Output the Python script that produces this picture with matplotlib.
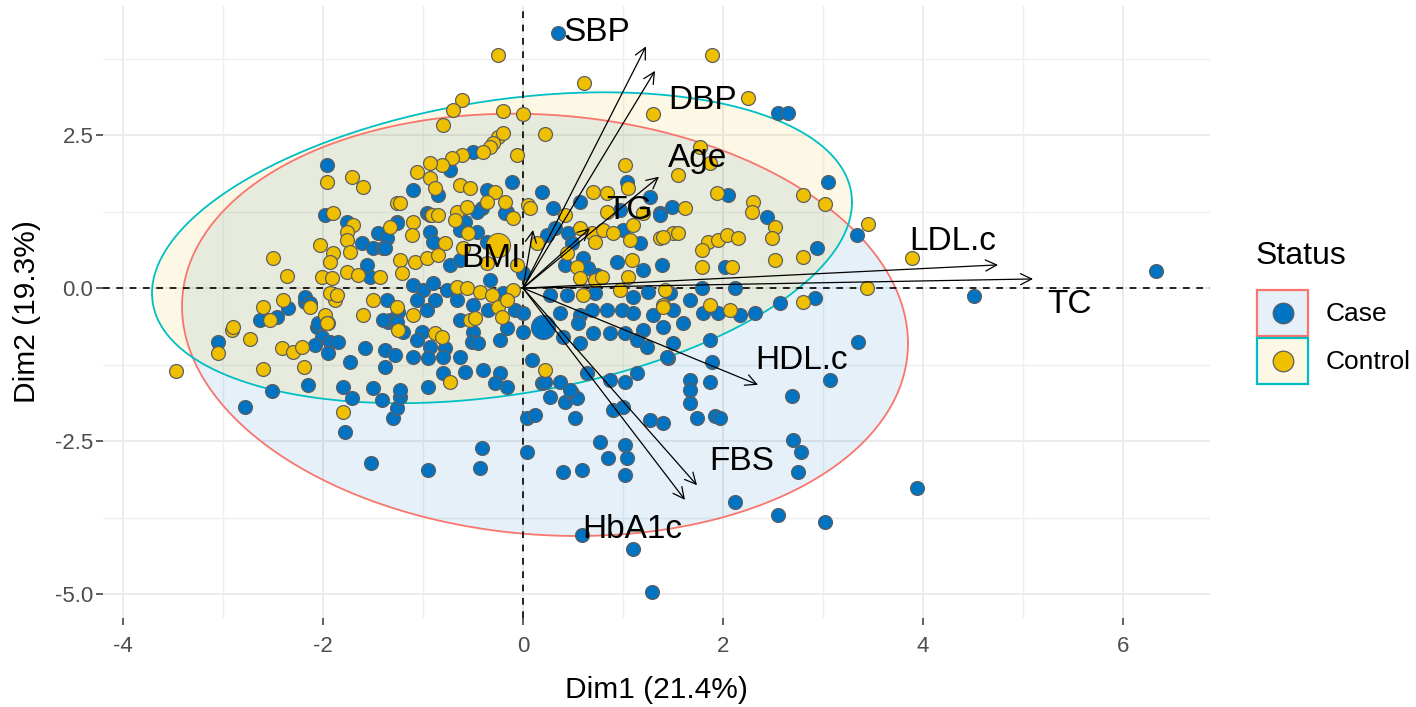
import numpy as np
import matplotlib
matplotlib.use("Agg")
import matplotlib.pyplot as plt
from matplotlib.patches import Rectangle

plt.rcParams['font.family'] = ['Liberation Sans', 'DejaVu Sans']

# ---------------- data ----------------
case_points = [
    (0.35, 4.17), (2.55, 2.86), (2.65, 2.86), (3.05, 1.73), (3.34, 0.87), (4.51, -0.13), (6.33, 0.28),
    (3.35, -0.88), (3.07, -1.50), (2.69, -1.76), (2.70, -2.48), (2.78, -2.68), (2.75, -3.01), (3.94, -3.27),
    (2.12, -3.50), (2.55, -3.71), (3.02, -3.82),
    (1.67, -1.50), (1.67, -1.67), (1.67, -1.88), (1.74, -2.12), (1.92, -2.09), (1.97, -2.12), (1.87, -1.54),
    (1.89, -1.21), (1.87, -0.85), (1.40, -2.21), (1.50, -0.90), (1.45, -1.14), (1.60, -0.57), (1.67, -0.20),
    (1.80, -0.41), (1.95, -0.41), (2.17, -0.44), (2.32, -0.41), (2.57, -0.25), (2.92, -0.16),
    (-0.41, -2.61), (-0.43, -2.94), (-0.95, -2.97), (-1.52, -2.86), (0.04, -2.12), (0.12, -2.08), (0.04, -2.68),
    (0.40, -3.01), (0.59, -2.97), (0.52, -2.12), (0.77, -2.52), (0.85, -2.78), (1.02, -2.57), (1.04, -2.78),
    (1.02, -3.06), (1.27, -2.16), (0.27, -1.78), (0.42, -1.86), (0.49, -1.72), (0.54, -1.80), (0.90, -1.99),
    (1.00, -1.94), (-1.30, -2.12), (-1.26, -1.96), (-1.23, -1.78), (-0.95, -1.62), (-0.16, -1.62), (0.19, -1.55),
    (1.02, -1.54), (0.59, -4.04), (1.10, -4.26), (1.29, -4.97),
    (-3.05, -0.88), (-2.78, -1.94), (-2.51, -1.68), (-2.15, -1.58), (-1.80, -1.62), (-1.71, -1.80), (-1.78, -2.35),
    (-1.50, -1.63), (-1.41, -1.83), (-1.73, -1.21), (-1.58, -0.98), (-1.38, -1.01), (-1.28, -1.09), (-2.06, -0.64),
    (-2.01, -0.80), (-1.93, -0.88), (-1.85, -0.88), (-2.08, -0.93), (-1.95, -1.06), (-1.35, -0.56), (-2.63, -0.52),
    (-2.46, -0.47), (-2.35, -0.33), (-2.18, -0.23),
    (-1.96, 2.01), (-1.98, 1.19), (-1.76, 1.08), (-1.61, 0.74), (-1.45, 0.90), (-1.36, 0.82), (-1.26, 1.08),
    (-1.53, 0.18), (-1.56, 0.38), (-1.50, 0.65), (-1.40, 0.65), (-2.18, -0.15), (-2.13, -0.25), (-1.33, -0.52),
    (-1.25, -0.39), (-2.05, -0.57),
    (-0.50, 2.22), (-0.73, 1.93), (-1.10, 1.60), (-0.85, 1.52), (-0.36, 1.60), (-0.11, 1.73), (-0.96, 1.23),
    (-0.41, 1.31), (-0.16, 1.24), (0.19, 1.57), (0.30, 1.31), (1.04, 1.73), (0.57, 1.41), (1.27, 1.49), (1.49, 1.32),
    (-0.93, 1.19), (-0.58, 1.08), (-0.46, 1.24), (-0.18, 1.23),
    (0.97, 1.27), (1.37, 1.23), (-1.26, 1.06), (-0.93, 0.92), (-0.90, 0.75), (-0.63, 0.95), (-0.46, 0.92),
    (-0.36, 0.75), (0.24, 0.87), (0.32, 0.98), (0.45, 0.90), (0.49, 0.74), (1.00, 0.95), (1.17, 0.74), (-1.38, 0.65),
    (-0.73, 0.38), (-0.63, 0.46), (-0.33, 0.13), (0.00, 0.25), (0.42, 0.38), (0.60, 0.49), (0.65, 0.33), (0.74, 0.21),
    (0.94, 0.42), (1.20, 0.29), (1.39, 0.38), (-1.10, 0.05), (-1.00, -0.03), (-0.90, 0.08), (-0.76, -0.03),
    (-0.20, -0.08), (0.27, -0.11), (0.44, -0.11), (0.72, -0.08), (1.10, -0.15), (1.25, -0.07), (1.47, -0.08),
    (-1.36, -0.20), (-1.06, -0.20), (-0.96, -0.36), (-0.88, -0.20), (-0.66, -0.20), (-0.50, -0.28), (-0.35, -0.36),
    (-0.08, -0.36), (0.00, -0.41), (0.37, -0.41), (0.57, -0.44), (0.69, -0.36), (0.84, -0.36), (0.99, -0.36),
    (1.10, -0.41), (1.30, -0.44), (1.50, -0.36), (-1.40, -0.52), (-1.26, -0.56), (-1.20, -0.72), (-1.01, -0.72),
    (-1.06, -0.85), (-0.93, -0.96), (-0.78, -0.98), (-0.63, -0.52), (-0.50, -0.72), (-0.51, -0.88), (-0.45, -0.90),
    (-0.23, -0.85), (-0.16, -0.65), (0.00, -0.72), (0.40, -0.80), (0.55, -0.57), (0.57, -0.90), (0.70, -0.74),
    (0.87, -0.74), (1.02, -0.74), (1.20, -0.69), (1.24, -0.96), (1.14, -0.85), (1.40, -0.64),
    (-1.10, -1.13), (-0.95, -1.14), (-0.80, -1.13), (-0.63, -1.13), (-0.40, -1.34), (-0.23, -1.39), (-0.28, -1.55),
    (0.09, -1.18), (0.22, -1.54), (0.37, -1.54), (0.47, -1.67), (0.64, -1.39), (0.87, -1.50), (1.14, -1.39),
    (1.44, -1.13), (-0.80, -1.39), (-0.58, -1.37), (-1.38, -1.29), (-1.23, -1.67),
    (2.05, 1.52), (1.37, 1.19), (2.44, 1.16), (2.94, 0.65), (2.02, 0.34), (2.12, 0.00), (1.79, 0.00),
]

control_points = [
    (1.87, -0.28), (2.07, -0.36), (2.80, -0.23), (1.40, -0.28),
    (-3.05, -1.06), (-2.91, -0.69), (-2.73, -0.83), (-3.47, -1.36), (-2.60, -1.32), (-2.41, -0.98), (-2.30, -1.05),
    (-2.21, -0.96), (-2.19, -1.29), (-1.80, -2.03), (-1.60, -0.44), (-1.98, -0.44), (-1.95, -0.57), (-1.25, -0.69),
    (-2.60, -0.31), (-2.53, -0.52), (-2.40, -0.20), (-2.13, -0.31), (-1.88, -0.20), (-1.50, -0.20), (-2.90, -0.64),
    (-1.96, 1.73), (-1.71, 1.81), (-1.60, 1.65), (-1.90, 1.23), (-1.70, 1.03), (-1.76, 0.92), (-1.76, 0.78),
    (-1.33, 1.00), (-1.26, 1.39), (-2.03, 0.70), (-1.90, 0.57), (-1.73, 0.59), (-1.93, 0.42), (-2.50, 0.49),
    (-2.36, 0.20), (-2.01, 0.18), (-1.91, 0.16), (-1.76, 0.26), (-1.65, 0.21), (-1.43, 0.18), (-1.93, -0.08),
    (-1.86, -0.11), (-1.96, -0.57),
    (-0.25, 3.81), (0.61, 3.35), (-0.61, 3.07), (-0.70, 2.91), (-0.80, 2.66), (-0.20, 2.89), (0.00, 2.84),
    (0.22, 2.52), (1.30, 2.84), (-0.25, 2.47), (-0.20, 2.53), (-0.30, 2.37), (-0.33, 2.30), (-0.40, 2.22),
    (-0.61, 2.17), (-0.71, 2.12), (-0.81, 2.01), (-0.93, 2.04), (-1.06, 1.90), (-0.93, 1.80), (-0.88, 1.63),
    (-0.63, 1.68), (-0.53, 1.63), (-0.28, 1.57), (-0.06, 2.17), (-1.23, 1.39), (-0.91, 1.19), (-0.66, 1.24),
    (-0.56, 1.32), (-0.36, 1.41), (-0.18, 1.41), (0.05, 1.36), (1.02, 2.01), (1.05, 1.63), (0.70, 1.57), (0.84, 1.55),
    (1.55, 1.85),
    (-0.85, 1.19), (-0.68, 1.11), (-0.10, 1.14), (0.07, 1.31), (0.42, 1.19), (0.84, 1.24), (1.20, 1.23),
    (-1.10, 1.08), (-1.11, 0.87), (-0.78, 0.74), (-0.55, 0.90), (-0.60, 0.65), (0.14, 0.74), (0.57, 0.98),
    (0.69, 0.90), (0.72, 0.75), (0.44, 0.57), (0.80, 0.95), (0.90, 0.90), (1.10, 1.03), (1.07, 0.78), (1.37, 0.82),
    (1.50, 0.90), (-1.23, 0.46), (-1.08, 0.42), (-0.96, 0.49), (-0.85, 0.54), (-0.36, 0.41), (-0.06, 0.38),
    (0.54, 0.34), (0.57, 0.16), (0.72, 0.13), (0.79, 0.18), (1.09, 0.46), (1.05, 0.18), (-1.21, 0.25),
    (-0.66, 0.02), (-0.56, 0.00), (-0.43, -0.07), (-0.31, -0.11), (-0.10, -0.03), (0.60, -0.11), (0.97, -0.03),
    (1.40, -0.31), (-1.26, -0.31), (-1.10, -0.44), (-0.25, -0.31), (-0.16, -0.20), (-0.21, -0.47), (-0.88, -0.74),
    (-0.81, -0.80), (-0.53, -0.52), (-0.48, -0.49), (0.22, -1.34), (-0.73, -1.54),
    (2.25, 3.10), (1.89, 3.81), (1.77, 2.30), (1.87, 2.04), (1.94, 1.55), (2.80, 1.52), (3.02, 1.37), (2.30, 1.41),
    (2.29, 1.24), (1.62, 1.31), (2.52, 1.00), (2.49, 0.82), (3.45, 1.05), (1.55, 0.90), (1.40, 0.83), (1.85, 0.75),
    (1.79, 0.62), (1.95, 0.78), (2.04, 0.87), (2.15, 0.82), (2.80, 0.51), (2.52, 0.46), (3.89, 0.49), (2.09, 0.34),
    (1.79, 0.34), (3.44, 0.00), (1.42, -0.03),
]

# group centroids
case_mean = (0.20, -0.64)
control_mean = (-0.25, 0.70)

# ellipse parameters: centre, sd_x, sd_y, covariance
case_ellipse = dict(cx=0.22, cy=-0.60, sx=3.63, sy=3.45, sxy=-1.1)
control_ellipse = dict(cx=-0.21, cy=0.66, sx=3.50, sy=2.54, sxy=2.6)

# variable arrows (loadings) and label positions
var_names = ['SBP', 'DBP', 'Age', 'TG', 'BMI', 'LDL.c', 'TC', 'HDL.c', 'FBS', 'HbA1c']
var_dim1 = [1.23, 1.32, 1.36, 0.67, 0.10, 4.75, 5.10, 2.35, 1.74, 1.62]
var_dim2 = [3.95, 3.55, 1.82, 0.98, 0.95, 0.38, 0.15, -1.58, -3.22, -3.46]
label_dim1 = [0.74, 1.80, 1.75, 1.06, -0.32, 4.30, 5.47, 2.79, 2.19, 1.09]
label_dim2 = [4.17, 3.07, 2.12, 1.27, 0.49, 0.77, -0.26, -1.18, -2.84, -3.95]

groups = ['Case', 'Control']
fill_colors = {'Case': '#0073C2', 'Control': '#EFC000'}
line_colors = {'Case': '#F8766D', 'Control': '#00BFC4'}

# ---------------- figure ----------------
W, H = 1416, 707
fig = plt.figure(figsize=(W / 100, H / 100), dpi=100)
ax = fig.add_axes([103 / W, (H - 618) / H, (1210 - 103) / W, (618 - 6) / H])
ax.set_xlim(-4.2, 6.87)
ax.set_ylim(-5.39, 4.61)

for s in ax.spines.values():
    s.set_visible(False)
ax.set_xticks([-4, -2, 0, 2, 4, 6])
ax.set_xticklabels(['-4', '-2', '0', '2', '4', '6'])
ax.set_xticks([-3, -1, 1, 3, 5], minor=True)
ax.set_yticks([-5, -2.5, 0, 2.5])
ax.set_yticklabels(['-5.0', '-2.5', '0.0', '2.5'])
ax.set_yticks([-3.75, -1.25, 1.25, 3.75], minor=True)
ax.grid(which='major', color='#EBEBEB', lw=1.4, zorder=0)
ax.grid(which='minor', color='#EFEFEF', lw=1.0, zorder=0)
ax.set_axisbelow(True)
ax.tick_params(which='major', length=5, width=1.1, color='#333333',
               labelsize=16, labelcolor='#4D4D4D')
ax.tick_params(axis='x', which='major', pad=8)
ax.tick_params(axis='y', which='major', pad=2)
ax.tick_params(which='minor', length=0)

# ellipses
t = np.linspace(0, 2 * np.pi, 400)
for g, e in (('Case', case_ellipse), ('Control', control_ellipse)):
    a = e['sxy'] / e['sx']
    b = np.sqrt(e['sy'] ** 2 - a ** 2)
    ex = e['cx'] + e['sx'] * np.cos(t)
    ey = e['cy'] + a * np.cos(t) + b * np.sin(t)
    ax.fill(ex, ey, color=fill_colors[g], alpha=0.10, lw=0, zorder=1)
    ax.plot(ex, ey, color=line_colors[g], lw=1.3, zorder=1.5)

# reference lines
ax.axhline(0, color='black', lw=1.2, ls=(0, (4, 4)), zorder=2)
ax.axvline(0, color='black', lw=1.2, ls=(0, (4, 4)), zorder=2)

# points
cx, cy = zip(*case_points)
kx, ky = zip(*control_points)
ax.scatter(cx, cy, s=100, c=fill_colors['Case'], edgecolors='#5f5f5f', linewidths=0.9, zorder=3)
ax.scatter(kx, ky, s=100, c=fill_colors['Control'], edgecolors='#5f5f5f', linewidths=0.9, zorder=3)
ax.scatter(*case_mean, s=300, c=fill_colors['Case'], edgecolors='#5f5f5f', linewidths=0.8, zorder=3.5)
ax.scatter(*control_mean, s=300, c=fill_colors['Control'], edgecolors='#5f5f5f', linewidths=0.8, zorder=3.5)

# arrows
for name, x, y, lx, ly in zip(var_names, var_dim1, var_dim2, label_dim1, label_dim2):
    ax.annotate('', xy=(x, y), xytext=(0, 0),
                arrowprops=dict(arrowstyle='->', lw=0.9, color='black',
                                mutation_scale=20, shrinkA=0, shrinkB=0), zorder=4)
    ax.text(lx, ly, name, fontsize=24, ha='center', va='center', color='black', zorder=5)

ax.set_xlabel('Dim1 (21.4%)', fontsize=21.5, color='black', labelpad=14)
ax.set_ylabel('Dim2 (19.3%)', fontsize=21.5, color='black', labelpad=10)

# legend (drawn in pixel space on an overlay)
lg = fig.add_axes([0, 0, 1, 1], zorder=10)
lg.set_xlim(0, W)
lg.set_ylim(H, 0)
lg.axis('off')
lg.text(1256, 256, 'Status', fontsize=23, ha='left', va='center', color='black')
for i, g in enumerate(groups):
    y0 = 290 + i * 48
    lg.add_patch(Rectangle((1257, y0), 51, 46, facecolor='white', edgecolor='none'))
    lg.add_patch(Rectangle((1257, y0), 51, 46, facecolor=fill_colors[g], alpha=0.10, edgecolor='none'))
    lg.add_patch(Rectangle((1257, y0), 51, 46, facecolor='none', edgecolor=line_colors[g], lw=1.6))
    lg.scatter([1283], [y0 + 23], s=220, c=fill_colors[g], edgecolors='#5f5f5f', linewidths=0.9)
    lg.text(1326, y0 + 24, g, fontsize=19, ha='left', va='center', color='black')

fig.savefig('out.png', dpi=100, facecolor='white')
